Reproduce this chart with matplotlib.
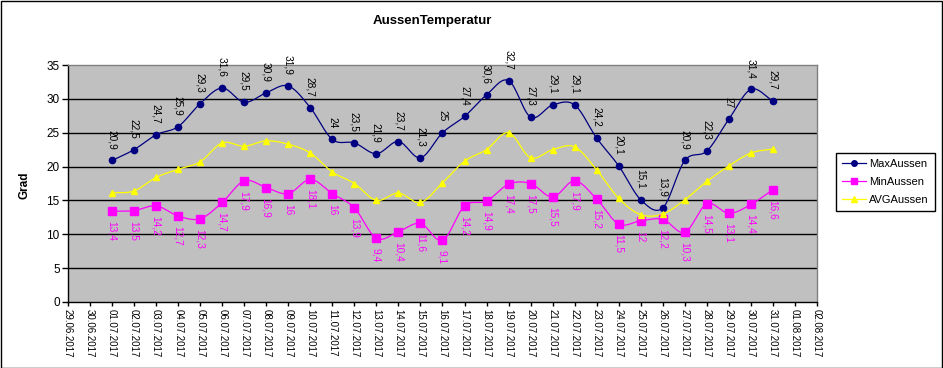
import numpy as np
import matplotlib
matplotlib.use("Agg")
import matplotlib.pyplot as plt
from matplotlib.lines import Line2D
from matplotlib.patches import Rectangle

plt.rcParams['font.family'] = ['Liberation Sans', 'DejaVu Sans']

dates = ["29.06.2017", "30.06.2017"] + ["%02d.07.2017" % d for d in range(1, 32)] + ["01.08.2017", "02.08.2017"]
data_dates = ["%02d.07.2017" % d for d in range(1, 32)]

max_aussen = [20.9, 22.5, 24.7, 25.9, 29.3, 31.6, 29.5, 30.9, 31.9, 28.7, 24, 23.5, 21.9, 23.7, 21.3,
              25, 27.4, 30.6, 32.7, 27.3, 29.1, 29.1, 24.2, 20.1, 15.1, 13.9, 20.9, 22.3, 27, 31.4, 29.7]
min_aussen = [13.4, 13.5, 14.2, 12.7, 12.3, 14.7, 17.9, 16.9, 16, 18.1, 16, 13.9, 9.4, 10.4, 11.6,
              9.1, 14.2, 14.9, 17.4, 17.5, 15.5, 17.9, 15.2, 11.5, 12, 12.2, 10.3, 14.5, 13.1, 14.4, 16.6]
avg_aussen = [16.1, 16.4, 18.4, 19.6, 20.7, 23.5, 23.0, 23.8, 23.3, 22.0, 19.2, 17.5, 15.0, 16.1, 14.7,
              17.6, 20.8, 22.5, 25.0, 21.3, 22.5, 22.9, 19.5, 15.3, 12.9, 13.0, 15.1, 17.8, 20.1, 22.0, 22.6]

series_names = ["MaxAussen", "MinAussen", "AVGAussen"]
colors = ["#000080", "#FF00FF", "#FFFF00"]
markers = ["o", "s", "^"]


def fmt(v):
    s = ("%g" % v)
    return s.replace(".", ",")


def smooth(x, y, n=16):
    # Catmull-Rom rendering of the line between data points (display only)
    x = np.asarray(x, float)
    y = np.asarray(y, float)
    px = np.concatenate([[2 * x[0] - x[1]], x, [2 * x[-1] - x[-2]]])
    py = np.concatenate([[2 * y[0] - y[1]], y, [2 * y[-1] - y[-2]]])
    xs, ys = [], []
    t = np.linspace(0, 1, n, endpoint=False)
    for i in range(1, len(px) - 2):
        p0, p1, p2, p3 = py[i - 1], py[i], py[i + 1], py[i + 2]
        q0, q1, q2, q3 = px[i - 1], px[i], px[i + 1], px[i + 2]
        t2, t3 = t * t, t * t * t
        ys.append(0.5 * (2 * p1 + (-p0 + p2) * t + (2 * p0 - 5 * p1 + 4 * p2 - p3) * t2 + (-p0 + 3 * p1 - 3 * p2 + p3) * t3))
        xs.append(0.5 * (2 * q1 + (-q0 + q2) * t + (2 * q0 - 5 * q1 + 4 * q2 - q3) * t2 + (-q0 + 3 * q1 - 3 * q2 + q3) * t3))
    xs.append([x[-1]])
    ys.append([y[-1]])
    return np.concatenate(xs), np.concatenate(ys)


W, H = 943, 368
fig = plt.figure(figsize=(W / 100, H / 100), dpi=100)
fig.patch.set_facecolor("white")
fig.patches.append(Rectangle((0.5 / W, 0.5 / H), 1 - 1.5 / W, 1 - 1.5 / H, transform=fig.transFigure,
                             fill=False, edgecolor="black", linewidth=1.0))

left, right, top, bottom = 68, 817, 65, 302
ax = fig.add_axes([left / W, (H - bottom) / H, (right - left) / W, (bottom - top) / H])
ax.set_facecolor("#C0C0C0")

xpos = {d: i for i, d in enumerate(dates)}
xd = [xpos[d] for d in data_dates]

for v in range(5, 35, 5):
    ax.axhline(v, color="black", linewidth=1.0, zorder=1)

all_series = [max_aussen, min_aussen, avg_aussen]
msizes = [4.5, 5.2, 4.8]
for vals, c, m, ms in zip(all_series, colors, markers, msizes):
    sx, sy = smooth(xd, vals)
    ax.plot(sx, sy, color=c, linewidth=0.9, zorder=3)
    ax.plot(xd, vals, linestyle="none", marker=m, color=c, markersize=ms, markeredgecolor=c, zorder=4)

for x, v in zip(xd, max_aussen):
    ax.annotate(fmt(v), (x, v), xytext=(0, 11), textcoords="offset pixels", rotation=-90,
                ha="center", va="bottom", fontsize=7.3, color="black", zorder=5)
for x, v in zip(xd, min_aussen):
    ax.annotate(fmt(v), (x, v), xytext=(0, -10), textcoords="offset pixels", rotation=-90,
                ha="center", va="top", fontsize=7.3, color="#FF00FF", zorder=5)

ax.set_xlim(0, len(dates) - 1)
ax.set_ylim(0, 35)
ax.set_yticks(range(0, 36, 5))
ax.set_xticks(range(len(dates)))
ax.set_xticklabels(dates, rotation=-90, fontsize=7)
ax.tick_params(axis="y", labelsize=8.5, length=4, width=1, direction="out", pad=2)
ax.tick_params(axis="x", length=3, width=1, direction="out", pad=2)
for s in ["left", "bottom"]:
    ax.spines[s].set_color("black")
    ax.spines[s].set_linewidth(1)
for s in ["top", "right"]:
    ax.spines[s].set_color("#808080")
    ax.spines[s].set_linewidth(1)

fig.text(25 / W, 1 - 185 / H, "Grad", rotation=90, ha="center", va="center", fontsize=8.5, fontweight="bold")
fig.text(432 / W, 1 - 21 / H, "AussenTemperatur", ha="center", va="center", fontsize=9.5, fontweight="bold")

handles = [Line2D([], [], color=c, marker=m, markersize=4, linewidth=0.9) for c, m in zip(colors, markers)]
leg = fig.legend(handles, series_names, loc="upper left", bbox_to_anchor=(836 / W, 1 - 153 / H),
                 fontsize=8, frameon=True, fancybox=False, framealpha=1, edgecolor="black",
                 borderpad=0.5, labelspacing=0.75, handlelength=2.2, handletextpad=0.3, borderaxespad=0)
leg.get_frame().set_linewidth(1)

fig.savefig("out.png", dpi=100)
